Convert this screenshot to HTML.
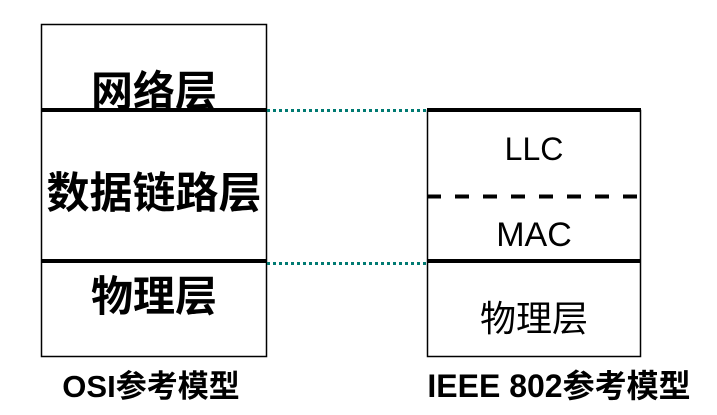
<!DOCTYPE html>
<html><head><meta charset="utf-8"><style>
html,body{margin:0;padding:0;background:#fff;}
svg{display:block;}
.b{font-family:"Liberation Sans","Noto Sans CJK SC",sans-serif;font-weight:bold;fill:#000;}
.n{font-family:"Liberation Sans","Noto Sans CJK SC",sans-serif;fill:#000;}
</style></head><body>
<svg width="717" height="415" viewBox="0 0 717 415" xmlns="http://www.w3.org/2000/svg">
<rect x="41.5" y="24.5" width="225" height="332" fill="none" stroke="#000" stroke-width="1.5"/>
<line x1="41" y1="110" x2="267" y2="110" stroke="#000" stroke-width="4"/>
<line x1="41" y1="261" x2="267" y2="261" stroke="#000" stroke-width="4"/>
<text class="b" x="154" y="106" font-size="42" text-anchor="middle">网络层</text>
<text class="b" x="154" y="208" font-size="43" text-anchor="middle">数据链路层</text>
<text class="b" x="154" y="311" font-size="42" text-anchor="middle">物理层</text>
<text class="b" x="151" y="397" font-size="31" text-anchor="middle">OSI参考模型</text>
<line x1="267" y1="110.5" x2="427" y2="110.5" stroke="#007a72" stroke-width="3" stroke-dasharray="3,3"/>
<line x1="267" y1="263.5" x2="427" y2="263.5" stroke="#007a72" stroke-width="3" stroke-dasharray="3,3"/>
<rect x="427.5" y="110.5" width="213" height="246" fill="none" stroke="#000" stroke-width="1.5"/>
<line x1="427" y1="110" x2="641" y2="110" stroke="#000" stroke-width="4"/>
<line x1="427" y1="196.5" x2="641" y2="196.5" stroke="#000" stroke-width="4" stroke-dasharray="14,14"/>
<line x1="427" y1="261" x2="641" y2="261" stroke="#000" stroke-width="4"/>
<text class="n" x="534" y="160" font-size="32" text-anchor="middle">LLC</text>
<text class="n" x="534" y="246" font-size="34" text-anchor="middle">MAC</text>
<text class="n" x="534" y="331" font-size="36" text-anchor="middle">物理层</text>
<text class="b" x="559" y="397" font-size="32" text-anchor="middle">IEEE 802参考模型</text>
</svg>
</body></html>
